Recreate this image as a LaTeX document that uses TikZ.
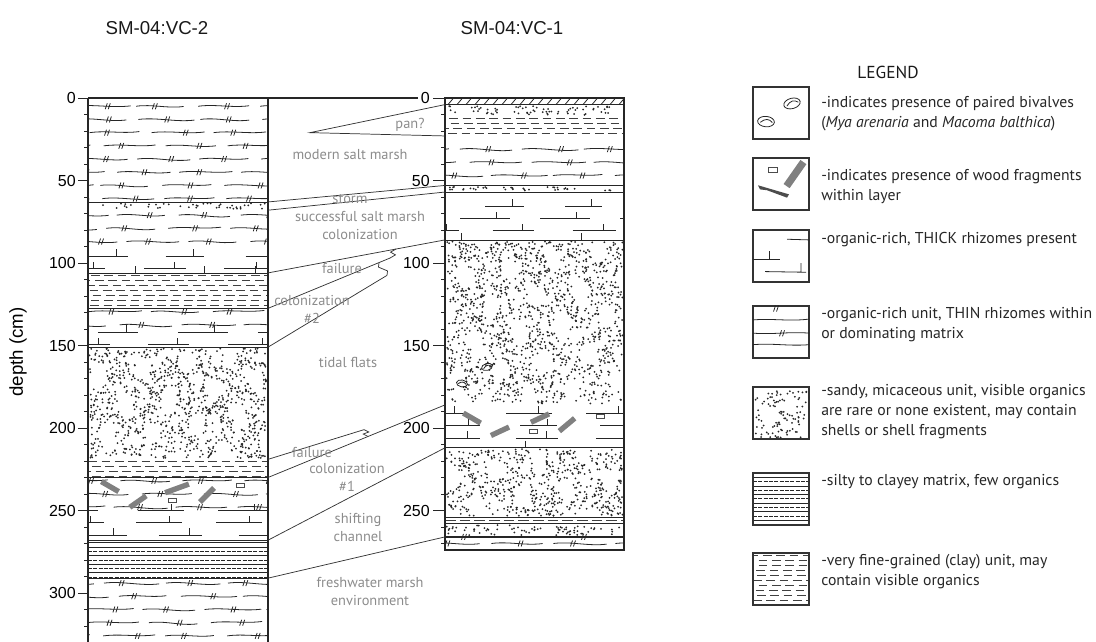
\documentclass[tikz,border=0pt]{standalone}
\usepackage{fontspec}
\setmainfont{Liberation Sans}
\newfontfamily\legfont{PT Sans}
\usetikzlibrary{calc}

\tikzset{
  ink/.style={draw=black!85, line width=0.6pt},
  colln/.style={draw=black!85, line width=0.9pt},
  corrln/.style={draw=black!80, line width=0.55pt},
  boxln/.style={draw=black!80, line width=1.1pt},
  coretitle/.style={font=\fontsize{14}{16}\selectfont, text=black!90},
  depthlbl/.style={font=\fontsize{12}{14}\selectfont, text=black, inner sep=0},
  unitlbl/.style={font=\legfont\fontsize{10.8}{13.5}\selectfont, text=black!45, align=center, inner sep=0},
  legtext/.style={font=\legfont\fontsize{11.8}{15}\selectfont, text=black!85, align=left, anchor=west, inner sep=0},
  woodbar/.style={fill=black!50, inner sep=0, minimum width=15pt, minimum height=4pt},
  woodchip/.style={draw=black!70, fill=white, line width=0.5pt, inner sep=0, minimum width=6pt, minimum height=3pt},
  pics/bivalve/.style={code={
    \draw[ink] (0,0) ellipse [x radius=4.2pt, y radius=2.6pt];
    \draw[ink] (-2.8pt,-0.6pt) .. controls (-0.5pt,1.6pt) and (1.5pt,1.6pt) .. (3.2pt,-0.2pt);
  }}
}

% thin rhizome mark
\newcommand{\rzmark}[2]{\draw[ink] ({#1-1.5},{#2+1.8}) -- ({#1+0.5},{#2-1.8}) ({#1+1.5},{#2+1.8}) -- ({#1+3.5},{#2-1.8});}

% sandy unit: x1 x2 d1 d2 n
\newcommand{\sandy}[5]{%
  \foreach \k in {1,...,#5}{
    \pgfmathsetmacro{\sdx}{#1+1.5+rnd*(#2-#1-3)}
    \pgfmathsetmacro{\sdy}{#3+0.8+rnd*(#4-#3-1.6)}
    \pgfmathsetmacro{\sdf}{sin(9*\sdx+7*\sdy)+sin(7*\sdx-11*\sdy)}
    \ifdim\sdf pt>-1.05pt \fill[black!85] (\sdx,\sdy) circle (0.75pt); \fi
  }}

% thin rhizomes: x1 x2 d1 d2 offset
\newcommand{\thinrz}[5]{%
  \begin{scope}
    \clip (#1,#3) rectangle (#2,#4);
    \pgfmathtruncatemacro{\tzn}{(#4-#3-#5)/8}
    \foreach \j in {0,...,\tzn}{
      \pgfmathsetmacro{\tzy}{#3+#5+8*\j}
      \pgfmathsetmacro{\tzo}{rnd*55}
      \foreach \s in {0,...,3}{
        \pgfmathsetmacro{\tza}{#1-50+\tzo+\s*62}
        \pgfmathsetmacro{\tzl}{47+rnd*10}
        \pgfmathsetmacro{\tzw}{rnd*1.6-0.8}
        \draw[ink] (\tza,\tzy) .. controls +({\tzl/3},-1.4) and +({-\tzl/3},1.4) .. ({\tza+\tzl},{\tzy+\tzw});
        \pgfmathsetmacro{\tzm}{\tza+\tzl*(0.3+0.4*rnd)}
        \rzmark{\tzm}{\tzy}
      }
    }
  \end{scope}}

% thick rhizomes: x1 x2 d1 d2 offset
\newcommand{\thickrz}[5]{%
  \begin{scope}
    \clip (#1,#3) rectangle (#2,#4);
    \pgfmathtruncatemacro{\tkn}{(#4-#3-#5)/7.5}
    \foreach \j in {0,...,\tkn}{
      \pgfmathsetmacro{\tky}{#3+#5+7.5*\j}
      \pgfmathsetmacro{\tko}{rnd*60}
      \foreach \s in {0,1,2}{
        \pgfmathsetmacro{\tka}{#1-40+\tko+\s*80}
        \pgfmathsetmacro{\tkl}{36+rnd*16}
        \draw[ink] (\tka,\tky) -- ({\tka+\tkl},\tky)
          ({\tka+0.72*\tkl},\tky) -- ++(0,-4.2);
      }
    }
  \end{scope}}

% very fine clay: dashed rows
\newcommand{\finecl}[4]{%
  \begin{scope}
    \clip (#1,#3) rectangle (#2,#4);
    \pgfmathtruncatemacro{\fcn}{(#4-#3-1.5)/3}
    \foreach \j in {0,...,\fcn}{
      \pgfmathsetmacro{\fcy}{#3+1.5+3*\j}
      \pgfmathsetmacro{\fcp}{rnd*10}
      \draw[black!75, line width=0.8pt, dash pattern=on 6.5pt off 3.5pt, dash phase=\fcp pt] (#1,\fcy) -- (#2,\fcy);
    }
  \end{scope}}

% silty to clayey: lines
\newcommand{\siltln}[4]{%
  \pgfmathtruncatemacro{\sln}{(#4-#3)/2.6}
  \foreach \j in {1,...,\sln}{
    \pgfmathsetmacro{\sly}{#3+2.6*\j}
    \ifodd\j \draw[ink] (#1,\sly) -- (#2,\sly);
    \else \draw[ink, line width=0.45pt, dash pattern=on 3pt off 1pt] (#1,\sly) -- (#2,\sly); \fi
  }}

% pinch-out zigzag
\newcommand{\pinch}[2]{\draw[corrln] (#1) -- ($(#1)!0.35!(#2)+(2.5pt,0)$) -- ($(#1)!0.65!(#2)-(2.5pt,0)$) -- (#2);}

\begin{document}
\begin{tikzpicture}[x=0.75pt, y=-0.75pt]
\pgfmathsetseed{11}
\useasboundingbox (0,0) rectangle (1096,642);

% Titles
\node[coretitle] (t-vc2) at (157,28) {SM-04:VC-2};
\node[coretitle] (t-vc1) at (512,28) {SM-04:VC-1};
\node[depthlbl, rotate=90, font=\fontsize{14}{16}\selectfont] (ax-depth) at (18,352) {depth (cm)};

% depth scope: x in px, y in cm
\begin{scope}[y=-1.2375pt, yshift=-73.5pt]

% Depth scales
\foreach \d in {0,10,...,320} \draw[ink] (84,\d) -- (88,\d);
\foreach \d in {0,50,...,300} {
  \draw[ink] (78,\d) -- (88,\d);
  \node[depthlbl, anchor=east] (dl2-\d) at (76,\d) {\d};
}
\foreach \d in {0,10,...,270} \draw[ink] (441,\d) -- (445,\d);
\foreach \d in {0,50,...,250} {
  \draw[ink] (433,\d) -- (445,\d);
  \node[depthlbl, anchor=east] (dl1-\d) at (430,\d) {\d};
}

% SM-04:VC-2 column
\thinrz{88}{268}{0}{63}{5}
\draw[ink] (88,63) -- (268,63);
\sandy{88}{268}{63}{68}{50}
\thinrz{88}{268}{68}{90}{3}
\thickrz{88}{268}{90}{106}{6}
\foreach \x in {135,204,255} \draw[ink] (\x,106) -- ++(0,-4);
\draw[ink] (88,106) -- (268,106);
\finecl{88}{268}{106}{127.5}
\draw[ink] (88,127.5) -- (268,127.5);
\thinrz{88}{268}{127.5}{140}{2}
\thickrz{88}{268}{138}{151}{4}
\draw[ink] (88,151) -- (268,151);
\sandy{88}{268}{151}{219}{1150}
\finecl{88}{268}{219}{230}
\draw[ink, line width=0.9pt] (88,230) -- (268,230);
\thinrz{88}{268}{230}{250}{2}
\thickrz{88}{268}{245}{268}{5}
\node[woodbar, rotate=-30] (w2-a) at (110,235.5) {};
\node[woodbar, rotate=35] (w2-b) at (138,244.6) {};
\node[woodbar, rotate=20, minimum width=19pt] (w2-c) at (177,236.6) {};
\node[woodbar, rotate=45] (w2-d) at (207,240.6) {};
\node[woodchip] (w2-e) at (240,235) {};
\node[woodchip] (w2-f) at (172,243.6) {};
\draw[ink, line width=0.9pt] (88,268) -- (268,268) (88,269.6) -- (268,269.6);
\siltln{88}{268}{269.6}{291}
\draw[ink, line width=0.9pt] (88,291) -- (268,291);
\thinrz{88}{268}{291}{330}{3}
\draw[colln] (88,0) -- (88,329.7);
\draw[colln, line width=1.6pt] (268,0) -- (268,329.7);
\draw[colln] (88,0) -- (418,0);

% SM-04:VC-1 column
\foreach \x in {448,457,...,619} \draw[ink] (\x,4) -- (\x+5,0.4);
\draw[ink] (445,4) -- (624,4);
\sandy{445}{624}{4}{11}{80}
\finecl{445}{624}{11}{23}
\thinrz{445}{624}{23}{53}{8}
\draw[ink] (445,53) -- (624,53);
\sandy{445}{624}{53}{57}{45}
\draw[ink] (445,57) -- (624,57);
\thickrz{445}{624}{57}{86}{8.5}
\foreach \x in {461,581} \draw[ink] (\x,86) -- ++(0,-4);
\draw[ink] (445,86) -- (624,86);
\sandy{445}{624}{86}{186}{1650}
\pic[rotate=15] (bv-a) at (487,163) {bivalve};
\pic[rotate=-10] (bv-b) at (462,173) {bivalve};
\thickrz{445}{624}{186}{212}{5}
\node[woodbar, rotate=-30] (w1-a) at (472,194) {};
\node[woodbar, rotate=25] (w1-b) at (500,202) {};
\node[woodbar, rotate=25] (w1-c) at (540,194) {};
\node[woodbar, rotate=40] (w1-d) at (567,198) {};
\node[woodchip] (w1-e) at (600,193) {};
\node[woodchip] (w1-f) at (533,202) {};
\draw[ink] (525,212) -- ++(0,-4);
\draw[ink] (445,212) -- (624,212);
\sandy{445}{624}{212}{254}{700}
\draw[ink] (445,254) -- (624,254) (445,257.8) -- (624,257.8);
\draw[black!75, line width=1pt, dash pattern=on 8pt off 3pt] (445,256) -- (624,256);
\sandy{445}{624}{258}{266}{90}
\draw[ink, line width=0.9pt] (445,266) -- (624,266);
\rzmark{463}{266} \rzmark{583}{266}
\thinrz{445}{624}{266}{274}{4}
\draw[colln] (445,0) rectangle (624,274);
\draw[colln, line width=1.6pt] (445,274) -- (624,274);

% Correlation ties
\foreach \d/\n in {63/63, 68/68, 106/106, 127.5/128, 151/151, 219/219, 230/230, 268/268, 291/291}
  \coordinate (vc2-\n) at (268,\d);
\foreach \d in {4,23,53,57,86,186,212,266}
  \coordinate (vc1-\d) at (445,\d);
\coordinate (pan-tip) at (310,21);
\coordinate (z2) at (390,97);   \coordinate (z2t) at (396,91.5);
\coordinate (z3) at (387,107.5); \coordinate (z3t) at (379,99.8);
\coordinate (zA) at (364,201);  \coordinate (zAt) at (368,205.1);
\draw[corrln] (vc1-4) -- (pan-tip) -- (vc1-23);
\draw[corrln] (vc2-63) -- (vc1-53);
\draw[corrln] (vc2-68) -- (vc1-57);
\draw[corrln] (vc2-106) -- (vc1-86);
\draw[corrln] (vc2-128) -- (z2);  \pinch{z2}{z2t}
\draw[corrln] (vc2-151) -- (z3);  \pinch{z3}{z3t}
\draw[corrln] (vc2-219) -- (zA);  \pinch{zA}{zAt}
\draw[corrln] (vc2-230) -- (vc1-186);
\draw[corrln] (vc2-268) -- (vc1-212);
\draw[corrln] (vc2-291) -- (vc1-266);

% Legend boxes
\begin{scope}[shift={(753,-6.7)}]
  \draw[boxln] (0,0) rectangle (56,31.5);
  \pic[rotate=15, scale=1.5] (lg-bv-a) at (39,10) {bivalve};
  \pic[rotate=-5, scale=1.5] (lg-bv-b) at (13,21) {bivalve};
\end{scope}
\begin{scope}[shift={(753,36.4)}]
  \draw[boxln] (0,0) rectangle (56,31.5);
  \node[woodchip, minimum width=7pt, minimum height=4pt] (lg-w-a) at (20,7.3) {};
  \node[woodbar, rotate=55, minimum width=22pt, minimum height=5.5pt] (lg-w-b) at (42,9.7) {};
  \fill[black!70] (5,16.5) -- (36,22) -- (34,24) -- (14,19.5) -- (7,19) -- cycle;
\end{scope}
\begin{scope}[shift={(753,80)}]
  \draw[boxln] (0,0) rectangle (56,31.5);
  \draw[ink] (34,5.6) -- (56,6);
  \draw[ink] (0,18) -- (27,18) (16,18) -- (16,12.5);
  \draw[ink] (12,25.2) -- (53,25.6) (48,25.5) -- (48,20);
\end{scope}
\begin{scope}[shift={(753,126)}]
  \draw[boxln] (0,0) rectangle (56,31.5);
  \rzmark{22}{1.6}
  \draw[ink] (0,8.5) .. controls (20,7.5) and (36,9.5) .. (56,8);
  \draw[ink] (0,16.5) .. controls (20,17.5) and (36,15.5) .. (56,16.5);
  \rzmark{28}{16.6}
  \draw[ink] (0,23.5) .. controls (20,22.5) and (36,24.5) .. (56,23.5);
\end{scope}
\begin{scope}[shift={(753,175.2)}]
  \draw[boxln] (0,0) rectangle (56,31.5);
  \sandy{0}{56}{0}{31.5}{110}
\end{scope}
\begin{scope}[shift={(753,227.3)}]
  \siltln{0}{56}{0}{31.5}
  \draw[boxln] (0,0) rectangle (56,31.5);
\end{scope}
\begin{scope}[shift={(753,275.8)}]
  \finecl{0}{56}{0}{31.5}
  \draw[boxln] (0,0) rectangle (56,31.5);
\end{scope}
\end{scope}

% Unit labels
\node[unitlbl] (u-pan) at (410,125) {pan?};
\node[unitlbl] (u-modern) at (350,155) {modern salt marsh};
\node[unitlbl] (u-storm) at (350,199) {storm};
\node[unitlbl] (u-succ) at (360,226) {successful salt marsh\\colonization};
\node[unitlbl] (u-fail2) at (342,268) {failure};
\node[unitlbl] (u-col2) at (312,309) {colonization\\\#2};
\node[unitlbl] (u-tidal) at (348,362) {tidal flats};
\node[unitlbl] (u-fail1) at (312,452) {failure};
\node[unitlbl] (u-col1) at (347,477) {colonization\\\#1};
\node[unitlbl] (u-shift) at (358,527) {shifting\\channel};
\node[unitlbl] (u-fresh) at (370,591) {freshwater marsh\\environment};

% Legend
\node[font=\legfont\fontsize{13}{15}\selectfont, text=black!90] (lg-title) at (888,72) {LEGEND};
\node[legtext] (lg-biv) at (821,114) {-indicates presence of paired bivalves\\(\textit{Mya arenaria} and \textit{Macoma balthica})};
\node[legtext] (lg-wood) at (821,187) {-indicates presence of wood fragments\\within layer};
\node[legtext] (lg-thick) at (821,240) {-organic-rich, THICK rhizomes present};
\node[legtext] (lg-thin) at (821,325) {-organic-rich unit, THIN rhizomes within\\or dominating matrix};
\node[legtext] (lg-sand) at (821,412) {-sandy, micaceous unit, visible organics\\are rare or none existent, may contain\\shells or shell fragments};
\node[legtext] (lg-silt) at (821,482) {-silty to clayey matrix, few organics};
\node[legtext] (lg-clay) at (821,572) {-very fine-grained (clay) unit, may\\contain visible organics};

\end{tikzpicture}
\end{document}
